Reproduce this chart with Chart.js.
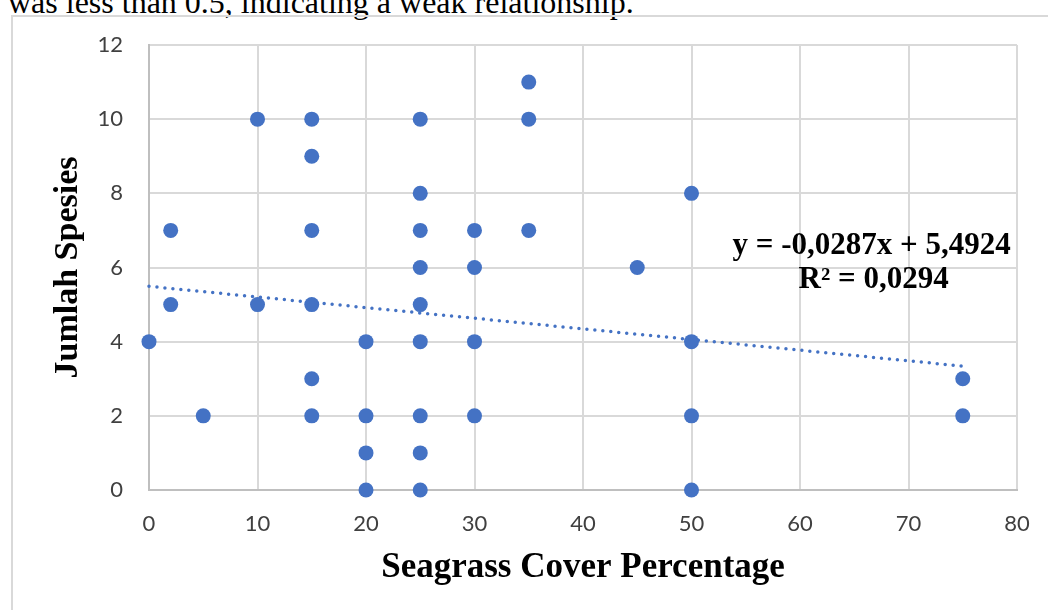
<!DOCTYPE html>
<html>
<head>
<meta charset="utf-8">
<script src="https://cdn.jsdelivr.net/npm/chart.js@4.4.1/dist/chart.umd.min.js"></script>
<style>
html, body { margin: 0; padding: 0; background: #ffffff; overflow: hidden; }
#wrap { position: relative; width: 1048px; height: 610px; overflow: hidden; }
#topText {
  position: absolute; left: 8px; top: -14px; white-space: nowrap;
  font-family: "Liberation Serif", "Times New Roman", serif; font-size: 32px; line-height: 32px; color: #000;
}
#frame {
  position: absolute; left: 11px; top: 15px; width: 1100px; height: 700px;
  border: 2px solid #d9d9d9; box-sizing: border-box;
}
#chartBox { position: absolute; left: 0; top: 0; width: 1048px; height: 610px; }
</style>
</head>
<body>
<div id="wrap">
  <div id="topText">was less than 0.5, indicating a weak relationship.</div>
  <div id="frame"></div>
  <div id="chartBox"><canvas id="scatterChart" width="1048" height="610"></canvas></div>
</div>
<script>
// Seagrass cover (%) vs number of species
const coverValues = [0, 2, 2, 5, 10, 10, 15, 15, 15, 15, 15, 15, 20, 20, 20, 20,
  25, 25, 25, 25, 25, 25, 25, 25, 25, 30, 30, 30, 30, 35, 35, 35, 45, 50, 50, 50, 50, 75, 75];
const speciesValues = [4, 7, 5, 2, 10, 5, 10, 9, 7, 5, 3, 2, 4, 2, 1, 0,
  10, 8, 7, 6, 5, 4, 2, 1, 0, 7, 6, 4, 2, 11, 10, 7, 6, 8, 4, 2, 0, 3, 2];

// trendline as printed on the chart
const trendSlope = -0.0287;
const trendIntercept = 5.4924;
const trendRange = [0, 75];
const equationLines = ["y = -0,0287x + 5,4924", "R\u00b2 = 0,0294"];

const xTitle = "Seagrass Cover Percentage";
const yTitle = "Jumlah Spesies";

const pointColor = "#4472C4";
const gridColor = "#d9d9d9";
const axisColor = "#bfbfbf";
const tickColor = "#404040";

function buildPoints() {
const pts = [];
for (let i = 0; i < coverValues.length; i++) {
pts.push({ x: coverValues[i], y: speciesValues[i] });
}
return pts;
}

function buildTrend() {
return trendRange.map(x => ({ x: x, y: trendIntercept + trendSlope * x }));
}

const equationLabel = {
id: "equationLabel",
afterDatasetsDraw(chart) {
const ctx = chart.ctx;
const xs = chart.scales.x;
const ys = chart.scales.y;
const cx = xs.getPixelForValue(66.6);
const cy = ys.getPixelForValue(6.58);
ctx.save();
ctx.fillStyle = "#000000";
ctx.font = "bold 31px 'Liberation Serif', 'Times New Roman', serif";
ctx.textAlign = "center";
ctx.textBaseline = "middle";
ctx.fillText(equationLines[0], cx, cy);
ctx.fillText(equationLines[1], cx + 2, cy + 34);
ctx.restore();
}
};

const ctx = document.getElementById("scatterChart");
new Chart(ctx, {
type: "scatter",
data: {
datasets: [
{
label: "Trend",
data: buildTrend(),
showLine: true,
borderColor: pointColor,
borderWidth: 3.5,
borderDash: [0, 8],
borderCapStyle: "round",
pointRadius: 0,
fill: false,
clip: false
},
{
label: "Jumlah Spesies",
data: buildPoints(),
backgroundColor: pointColor,
borderWidth: 0,
pointRadius: 7.5,
pointHoverRadius: 7.5,
clip: false
}
]
},
options: {
responsive: false,
animation: false,
layout: {
padding: { top: 45, right: 31, left: 0, bottom: 0 }
},
plugins: {
legend: { display: false },
tooltip: { enabled: false }
},
scales: {
x: {
type: "linear",
min: 0,
max: 80,
afterFit: s => {
s.height = 120;
s.paddingLeft = 0;
s.paddingRight = 0;
},
grid: { color: gridColor, lineWidth: 2, drawTicks: false },
border: { color: axisColor, width: 2 },
ticks: {
stepSize: 10,
color: tickColor,
padding: 21,
font: { family: "Lato, 'Open Sans', sans-serif", size: 22 }
},
title: {
display: true,
text: xTitle,
color: "#000000",
padding: { top: 0, bottom: 21 },
font: { family: "'Liberation Serif', 'Times New Roman', serif", size: 35, weight: "bold", lineHeight: 1.2 }
}
},
y: {
type: "linear",
min: 0,
max: 12,
afterFit: s => {
s.width = 149;
s.paddingTop = 0;
s.paddingBottom = 0;
},
grid: { color: gridColor, lineWidth: 2, drawTicks: false },
border: { color: axisColor, width: 2 },
ticks: {
stepSize: 2,
color: tickColor,
padding: 26,
font: { family: "Lato, 'Open Sans', sans-serif", size: 22 }
},
title: {
display: true,
text: yTitle,
color: "#000000",
padding: { top: 48, bottom: 0 },
font: { family: "'Liberation Serif', 'Times New Roman', serif", size: 34, weight: "bold", lineHeight: 1.2 }
}
}
}
},
plugins: [equationLabel]
});
</script>
</body>
</html>
